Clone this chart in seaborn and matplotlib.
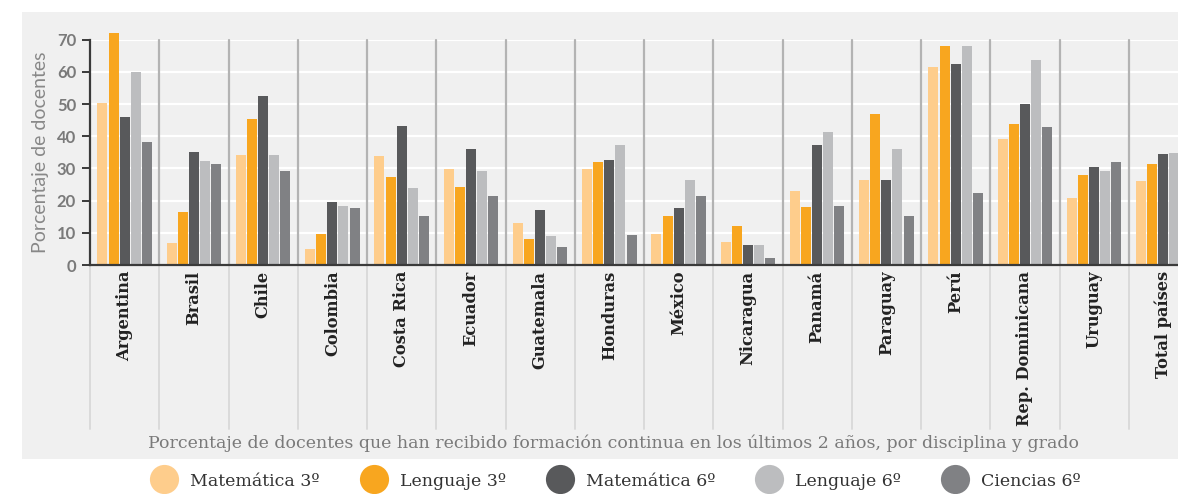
import matplotlib
matplotlib.use("Agg")
import matplotlib.pyplot as plt
from matplotlib.lines import Line2D
import seaborn as sns
import pandas as pd

paises = ["Argentina", "Brasil", "Chile", "Colombia", "Costa Rica", "Ecuador",
          "Guatemala", "Honduras", "México", "Nicaragua", "Panamá", "Paraguay",
          "Perú", "Rep. Dominicana", "Uruguay", "Total países"]
series = ["Matemática 3º", "Lenguaje 3º", "Matemática 6º", "Lenguaje 6º", "Ciencias 6º"]
colores = ["#fecd8c", "#f8a61f", "#58595b", "#bcbdbf", "#808184"]

matematica_3 = [50.3, 6.8, 34.2, 5.0, 33.9, 29.8, 13.0, 29.8, 9.6, 7.1, 23.0, 26.4, 61.5, 39.1, 20.8, 26.1]
lenguaje_3 = [72.2, 16.5, 45.4, 9.6, 27.3, 24.2, 8.1, 32.0, 15.2, 12.1, 18.0, 46.9, 68.0, 43.8, 28.0, 31.4]
matematica_6 = [46.0, 35.1, 52.5, 19.6, 43.2, 36.0, 17.1, 32.6, 17.7, 6.2, 37.3, 26.4, 62.4, 50.0, 30.4, 34.5]
lenguaje_6 = [59.9, 32.3, 34.2, 18.3, 23.9, 29.2, 9.0, 37.3, 26.4, 6.2, 41.3, 36.0, 68.0, 63.7, 29.2, 34.8]
ciencias_6 = [38.2, 31.4, 29.2, 17.7, 15.2, 21.4, 5.6, 9.3, 21.4, 2.2, 18.3, 15.2, 22.4, 42.9, 32.0, 30.0]

valores = [matematica_3, lenguaje_3, matematica_6, lenguaje_6, ciencias_6]
rows = []
for s, vals in zip(series, valores):
    for p, v in zip(paises, vals):
        rows.append({"pais": p, "serie": s, "valor": v})
df = pd.DataFrame(rows)

sns.set_theme(style="white")
plt.rcParams["font.family"] = ["DejaVu Serif"]

W, H = 1178, 494
fig = plt.figure(figsize=(W / 100, H / 100), dpi=100)
fig.patch.set_facecolor("white")

# grey panel (behind everything)
bg = fig.add_axes([22 / W, 1 - 458.7 / H, 1 - 22 / W, (458.7 - 12) / H], zorder=-10)
bg.set_facecolor("#f0f0f0")
bg.set_xticks([])
bg.set_yticks([])
for s in bg.spines.values():
    s.set_visible(False)

left = 90 / W
bottom = 1 - 265 / H
width = 69.25 * 16 / W
height = (265 - 39.7) / H
ax = fig.add_axes([left, bottom, width, height], zorder=1)
ax.set_facecolor("none")

sns.barplot(data=df, x="pais", y="valor", hue="serie", hue_order=series,
            order=paises, palette=colores, saturation=1, width=0.8, gap=0.1,
            legend=False, ax=ax, zorder=3)
for p in ax.patches:
    p.set_clip_on(False)
    p.set_edgecolor("none")

ax.set_xlim(-0.5, len(paises) - 0.5)
ax.set_ylim(0, 70)
ax.set_yticks(range(0, 71, 10))

# grid
for y in range(10, 71, 10):
    ax.axhline(y, color="white", lw=1.6, zorder=1)

# separators
lower = -(429 - 265) / (265 - 39.7)
for k in range(len(paises)):
    x = k - 0.5
    if k > 0:
        ax.add_line(Line2D([x, x], [0, 1], transform=ax.get_xaxis_transform(),
                           color="#b3b3b3", lw=1.6, zorder=2, clip_on=False))
    ax.add_line(Line2D([x, x], [lower, 0], transform=ax.get_xaxis_transform(),
                       color="#dadada", lw=1.4, zorder=2, clip_on=False))

for s in ["top", "right"]:
    ax.spines[s].set_visible(False)
for s in ["left", "bottom"]:
    ax.spines[s].set_color("#3a3a3a")
    ax.spines[s].set_linewidth(1.6)
    ax.spines[s].set_zorder(5)

ax.tick_params(axis="y", length=6, width=1.4, color="#3a3a3a", pad=4,
               labelsize=12, labelcolor="#7a7a7a", left=True)
ax.tick_params(axis="x", length=0, pad=4)
for t in ax.get_yticklabels():
    t.set_fontfamily("Lato")
    t.set_fontweight("bold")

ax.set_xticks(range(len(paises)))
ax.set_xticklabels(paises, rotation=90, fontsize=11.7, fontweight="bold",
                   color="#222222", family="DejaVu Serif", va="top", ha="center")
ax.set_xlabel("")
ax.set_ylabel("Porcentaje de docentes", family="Lato", fontsize=14,
              color="#888888", labelpad=6)

fig.text(614 / W, 1 - 443 / H,
         "Porcentaje de docentes que han recibido formación continua en los últimos 2 años, por disciplina y grado",
         ha="center", va="center", fontsize=12.5, color="#7a7a7a", family="DejaVu Serif")

handles = [Line2D([], [], marker="o", linestyle="none", markersize=21,
                  markerfacecolor=c, markeredgecolor="none") for c in colores]
fig.legend(handles, series, loc="center", bbox_to_anchor=(618 / W, 1 - 481 / H),
           ncol=5, frameon=False, handletextpad=1.0,
           columnspacing=2.6, handlelength=1.0, labelcolor="#333333",
           prop={"family": "DejaVu Serif", "size": 12.5})

fig.savefig("out.png", dpi=100, facecolor="white")
